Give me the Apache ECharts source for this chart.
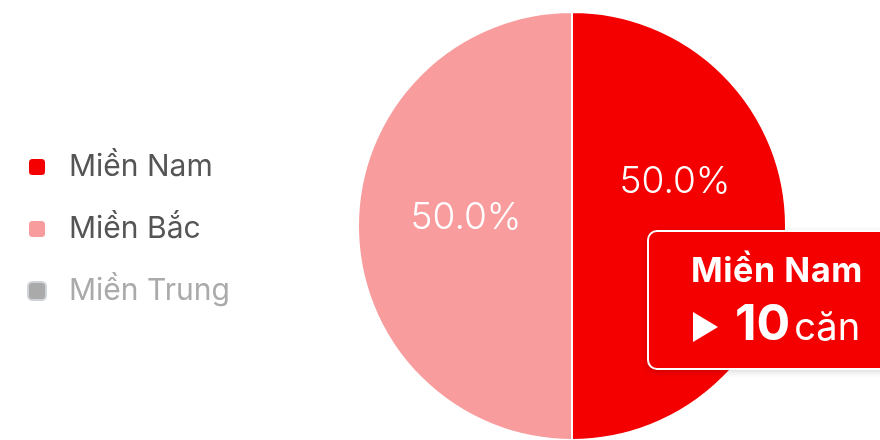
<!DOCTYPE html>
<html>
<head>
<meta charset="utf-8">
<script src="https://cdn.jsdelivr.net/npm/echarts@6/dist/echarts.min.js"></script>
<style>
  html, body { margin: 0; padding: 0; background: #fff; overflow: hidden; }
  #chart { width: 880px; height: 440px; }
</style>
</head>
<body>
<div id="chart"></div>
<script>
// Regions and number of units ("căn") in each
const regions = ['Miền Nam', 'Miền Bắc', 'Miền Trung'];
const units = [10, 10, 0];
const regionColors = ['#F40000', '#F89C9D', '#A9A9A9'];
const hiddenRegions = ['Miền Trung'];
const unitLabel = 'căn';

const FONT = 'Inter, "Noto Sans", sans-serif';

const selected = {};
regions.forEach(r => { selected[r] = !hiddenRegions.includes(r); });

const labelOffsets = [[-7, -44], [4, -8], [0, 0]];

const chart = echarts.init(document.getElementById('chart'));
chart.setOption({
  animation: false,
  color: regionColors,
  legend: {
    orient: 'vertical',
    left: 22,
    top: 147,
    padding: 5,
    icon: 'roundRect',
    itemWidth: 18,
    itemHeight: 18,
    itemGap: 32,
    selected: selected,
    inactiveColor: '#AAAAAA',
    textStyle: {
      fontFamily: FONT,
      fontSize: 30,
      color: '#555555',
      padding: [0, 0, 0, 18]
    },
    data: regions
  },
  tooltip: {
    trigger: 'item',
    alwaysShowContent: true,
    triggerOn: 'none',
    transitionDuration: 0,
    position: [647, 230],
    padding: 0,
    borderWidth: 0,
    backgroundColor: 'transparent',
    extraCssText: 'box-shadow:none;',
    formatter: function (p) {
      return '<div style="box-sizing:border-box;background:#F40000;border:2px solid #fff;border-radius:10px;' +
        'padding:16px 60px 16px 42px;color:#fff;font-family:' + FONT.replace(/"/g, "'") + ';white-space:nowrap;' +
        'box-shadow:0 2px 6px rgba(0,0,0,0.15);">' +
        '<div style="font-size:34px;font-weight:700;line-height:44px;letter-spacing:0.6px;">' + p.name + '</div>' +
        '<div style="line-height:60px;height:60px;">' +
        '<span style="display:inline-block;width:0;height:0;border-left:25px solid #fff;border-top:15px solid transparent;border-bottom:15px solid transparent;margin:0 17px 0 2px;vertical-align:-2px;"></span>' +
        '<span style="font-size:50px;font-weight:700;">' + p.value + '</span> ' +
        '<span style="font-size:38px;">' + unitLabel + '</span></div></div>';
    }
  },
  series: [{
    type: 'pie',
    center: [572, 226],
    radius: 214,
    startAngle: 90,
    clockwise: true,
    emphasis: { disabled: true },
    itemStyle: { borderColor: '#ffffff', borderWidth: 2 },
    label: {
      show: true,
      position: 'inside',
      formatter: p => p.percent.toFixed(1) + '%',
      color: '#ffffff',
      fontFamily: FONT,
      fontSize: 37,
      fontWeight: 300
    },
    labelLine: { show: false },
    data: regions.map((name, i) => ({
      name: name,
      value: units[i],
      label: { offset: labelOffsets[i] }
    }))
  }]
});

chart.dispatchAction({ type: 'showTip', seriesIndex: 0, dataIndex: 0 });
</script>
</body>
</html>
